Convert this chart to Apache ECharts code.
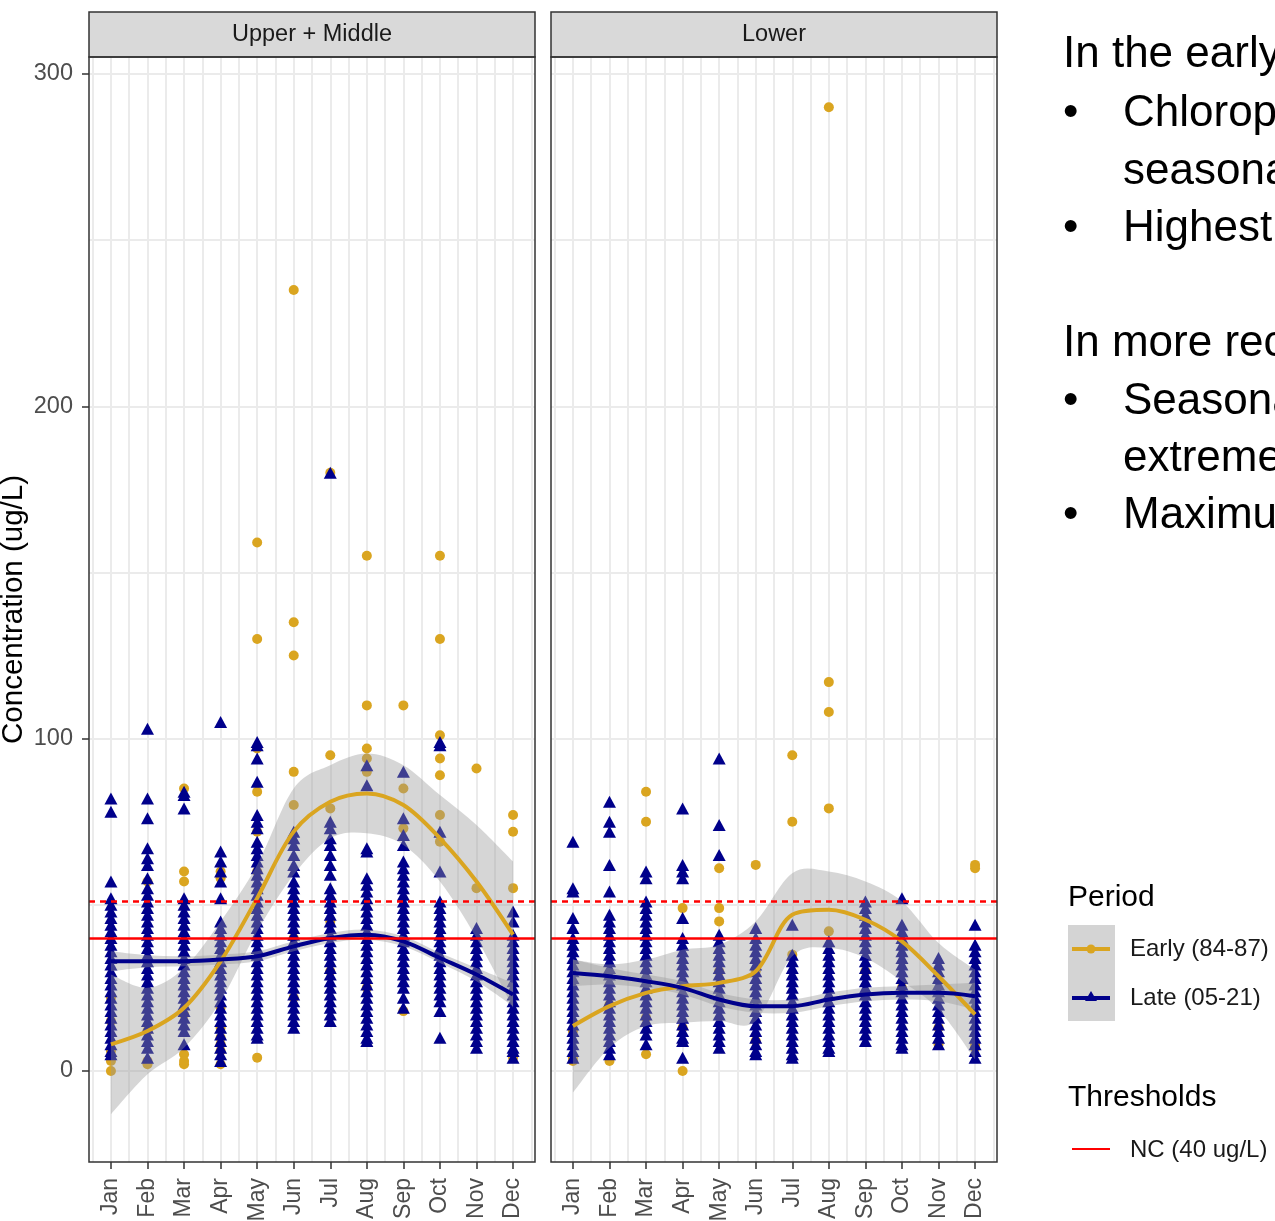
<!DOCTYPE html>
<html>
<head>
<meta charset="utf-8">
<script src="https://cdn.jsdelivr.net/npm/echarts@6/dist/echarts.min.js"></script>
<style>
  html, body {margin: 0; padding: 0; background: #fff;}
  #chart {width: 1275px; height: 1221px;}
</style>
</head>
<body>
<div id="chart"></div>
<script>
const months = ['Jan', 'Feb', 'Mar', 'Apr', 'May', 'Jun', 'Jul', 'Aug', 'Sep', 'Oct', 'Nov', 'Dec']
const panels = ['Upper + Middle', 'Lower']
const thresholds = [40, 51]
const yTicks = [0, 100, 200, 300]
const yMinorTicks = [50, 150, 250]
const xTicks = [1, 2, 3, 4, 5, 6, 7, 8, 9, 10, 11, 12]
const xMinorTicks = [0.5, 1.5, 2.5, 3.5, 4.5, 5.5, 6.5, 7.5, 8.5, 9.5, 10.5, 11.5, 12.5]

// Upper + Middle, observations per month
const umEarly = [
  [0, 3, 6, 15, 22],
  [57, 12, 3, 2],
  [85, 60, 57, 17, 5, 3, 2],
  [60, 58, 19, 13, 10, 8, 6, 2],
  [159, 130, 97, 84, 72, 60, 4],
  [235, 135, 125, 90, 80, 40, 22],
  [180, 95, 79, 45, 30],
  [155, 110, 97, 94, 90, 25],
  [110, 85, 73, 18],
  [155, 130, 101, 94, 89, 77, 69],
  [91, 55],
  [77, 72, 55, 4],
]
const umLate = [
  [82, 78, 57, 52, 50, 48, 46, 44, 42, 40, 38, 36, 34, 32, 30, 28, 26, 24, 22, 20, 18, 16, 14, 12, 10, 8, 6, 5],
  [103, 82, 76, 67, 64, 62, 58, 55, 53, 51, 49, 47, 45, 43, 41, 39, 37, 35, 33, 31, 29, 27, 25, 23, 21, 19, 17, 15, 13, 11, 9, 7, 4],
  [84, 83, 79, 52, 50, 48, 46, 44, 42, 40, 38, 36, 34, 32, 30, 28, 26, 24, 22, 20, 18, 16, 14, 12, 8],
  [105, 66, 63, 60, 57, 52, 45, 43, 41, 39, 37, 35, 33, 31, 29, 27, 25, 23, 21, 19, 17, 15, 13, 11, 9, 7, 5, 3],
  [99, 98, 94, 87, 77, 75, 73, 69, 67, 65, 63, 61, 59, 57, 55, 53, 51, 49, 47, 45, 43, 41, 39, 37, 35, 33, 31, 29, 27, 25, 23, 21, 19, 17, 15, 13, 11, 10],
  [72, 70, 68, 65, 62, 60, 57, 55, 53, 51, 49, 47, 45, 43, 41, 39, 37, 35, 33, 31, 29, 27, 25, 23, 21, 19, 17, 15, 13],
  [180, 75, 73, 70, 68, 65, 62, 59, 55, 53, 51, 49, 47, 45, 43, 41, 39, 37, 35, 33, 31, 29, 27, 25, 23, 21, 19, 17, 15],
  [92, 86, 67, 66, 58, 56, 54, 52, 50, 48, 46, 44, 42, 40, 38, 36, 34, 32, 30, 28, 26, 24, 22, 20, 18, 16, 14, 12, 10, 9],
  [90, 76, 71, 68, 63, 61, 59, 57, 55, 53, 51, 49, 47, 45, 43, 41, 39, 37, 35, 33, 31, 29, 27, 25, 22, 19],
  [99, 98, 72, 60, 51, 49, 47, 45, 43, 41, 39, 37, 35, 33, 31, 29, 27, 25, 23, 21, 18, 10],
  [43, 41, 39, 37, 35, 33, 31, 29, 27, 25, 23, 21, 19, 17, 15, 13, 11, 9, 7],
  [48, 45, 41, 39, 37, 35, 33, 31, 29, 27, 25, 23, 21, 19, 17, 15, 13, 11, 9, 7, 6, 4],
]

// Lower, observations per month
const lwEarly = [
  [4, 3, 12],
  [3, 20],
  [84, 75, 16, 5],
  [49, 13, 0],
  [61, 49, 45, 30],
  [62, 9, 30],
  [95, 75, 35],
  [290, 117, 108, 79, 42],
  [30],
  [25],
  [13, 8],
  [62, 61, 8, 7],
]
const lwLate = [
  [69, 55, 54, 46, 43, 40, 38, 36, 34, 32, 30, 28, 26, 24, 22, 20, 18, 16, 14, 12, 10, 8, 6, 4],
  [81, 75, 72, 62, 54, 47, 45, 43, 41, 39, 37, 35, 33, 31, 29, 27, 25, 23, 21, 19, 17, 15, 13, 11, 9, 7, 5],
  [60, 58, 51, 49, 47, 45, 43, 41, 39, 37, 35, 33, 31, 29, 27, 25, 23, 21, 19, 17, 15, 13, 11, 8],
  [79, 62, 60, 58, 46, 40, 38, 36, 34, 32, 30, 28, 26, 24, 22, 20, 18, 16, 14, 12, 10, 9, 4],
  [94, 74, 65, 41, 39, 37, 35, 33, 31, 29, 27, 25, 23, 21, 19, 17, 15, 13, 11, 9, 7],
  [43, 40, 38, 36, 34, 32, 30, 28, 26, 24, 22, 20, 18, 16, 14, 12, 10, 8, 6, 5],
  [44, 35, 33, 31, 29, 27, 25, 23, 21, 19, 17, 15, 13, 11, 9, 7, 5, 4],
  [39, 37, 35, 33, 31, 29, 27, 25, 23, 21, 19, 17, 15, 13, 11, 9, 7, 6],
  [51, 49, 47, 45, 43, 41, 39, 37, 35, 33, 31, 29, 27, 25, 23, 21, 19, 17, 15, 13, 11, 9],
  [52, 44, 42, 40, 38, 36, 34, 32, 30, 28, 26, 24, 22, 20, 18, 16, 14, 12, 10, 8, 7],
  [34, 32, 30, 28, 26, 24, 22, 20, 18, 16, 14, 12, 10, 8],
  [44, 38, 36, 34, 32, 30, 28, 26, 24, 22, 20, 18, 16, 14, 12, 10, 8, 6, 4],
]

// smoothed fits (value at each month) and their confidence bands
const umEarlyFit = [8, 12, 19, 33, 52, 72, 81, 83.5, 80, 70, 57, 41]
const umEarlyLo = [-13, -1, 7, 21, 42, 59, 70, 71.5, 68, 57, 40, 19]
const umEarlyHi = [29, 25, 31, 45, 62, 85, 92, 95.5, 92, 83, 74, 63]
const umLateFit = [33, 33, 33, 33.5, 34.5, 37.5, 40, 41, 39, 34, 29, 23]
const umLateLo = [30, 31.2, 31.5, 32, 33, 36, 38.5, 39.5, 37.5, 32.5, 27, 19.5]
const umLateHi = [36, 34.8, 34.5, 35, 36, 39, 41.5, 42.5, 40.5, 35.5, 31, 26.5]

const lwEarlyFit = [13.5, 19.5, 23.5, 25.5, 26.5, 30, 47, 48.5, 45.5, 39, 28.5, 17]
const lwEarlyLo = [-6.5, 7, 13.5, 14.5, 15, 15, 34.5, 37, 34, 27, 18.5, 3.5]
const lwEarlyHi = [33.5, 32, 33.5, 36.5, 38, 45, 59.5, 60, 57, 51, 38.5, 30.5]
const lwLateFit = [29.5, 28.5, 27, 25, 21.5, 19.5, 19.5, 21.5, 23, 23.5, 23.5, 22.5]
const lwLateLo = [25.5, 26, 25, 23, 19.5, 17.5, 17.5, 19.5, 21, 21.5, 21, 18.5]
const lwLateHi = [33.5, 31, 29, 27, 23.5, 21.5, 21.5, 23.5, 25, 25.5, 26, 26.5]

const notes = [
  {text: 'In the early 1980s:', bullet: false, y: 55},
  {text: 'Chlorophyll-a showed a strong', bullet: true, y: 114},
  {text: 'seasonal pattern', bullet: false, indent: true, y: 172},
  {text: 'Highest values in summer', bullet: true, y: 229},
  {text: 'In more recent years:', bullet: false, y: 344},
  {text: 'Seasonal pattern is less', bullet: true, y: 402},
  {text: 'extreme', bullet: false, indent: true, y: 459},
  {text: 'Maximum values are lower', bullet: true, y: 516},
]

const EARLY = '#DAA520'
const LATE = '#00008B'
const FONT = '"Liberation Sans", Arial, sans-serif'

const toPoints = (cols) => cols.flatMap((vals, i) => vals.map((v) => [xTicks[i], v]))
const toLine = (vals) => vals.map((v, i) => [xTicks[i], v])

const gridBoxes = [
  {left: 89, top: 57, width: 446, height: 1105},
  {left: 551, top: 57, width: 446, height: 1105},
]

// catmull-rom through pixel points, as svg path commands
const splineCmds = (pts) => {
  let d = ''
  for (let i = 0; i < pts.length - 1; i++) {
    const p0 = pts[i - 1] || pts[i]
    const p1 = pts[i]
    const p2 = pts[i + 1]
    const p3 = pts[i + 2] || p2
    const c1 = [p1[0] + (p2[0] - p0[0]) / 6, p1[1] + (p2[1] - p0[1]) / 6]
    const c2 = [p2[0] - (p3[0] - p1[0]) / 6, p2[1] - (p3[1] - p1[1]) / 6]
    d += ` C${c1[0]} ${c1[1]} ${c2[0]} ${c2[1]} ${p2[0]} ${p2[1]}`
  }
  return d
}

const bandSeries = (idx, lo, hi) => ({
  type: 'custom', xAxisIndex: idx, yAxisIndex: idx, z: 3, silent: true,
  data: [[xTicks[0], lo[0]]],
  renderItem: (params, api) => {
    const up = hi.map((v, i) => api.coord([xTicks[i], v]))
    const dn = lo.map((v, i) => api.coord([xTicks[i], v])).reverse()
    const d = `M${up[0][0]} ${up[0][1]}` + splineCmds(up) +
      ` L${dn[0][0]} ${dn[0][1]}` + splineCmds(dn) + ' Z'
    return {type: 'path', shape: {pathData: d}, style: {fill: '#999999', opacity: 0.4}}
  },
})

const makePanelSeries = (idx, early, late, fits) => {
  const axes = {xAxisIndex: idx, yAxisIndex: idx}
  return [
    {
      ...axes, type: 'line', data: [], silent: true,
      markLine: {
        silent: true, symbol: ['none', 'none'], label: {show: false}, z: 0, animation: false,
        lineStyle: {color: '#ebebeb', width: 2, type: 'solid'},
        data: [
          ...xMinorTicks.map((v) => ({xAxis: v})),
          ...xTicks.map((v) => ({xAxis: v})),
          ...yMinorTicks.map((v) => ({yAxis: v})),
          ...yTicks.map((v) => ({yAxis: v})),
        ],
      },
    },
    {
      ...axes, type: 'scatter', name: 'Early (84-87)', data: toPoints(early),
      symbol: 'circle', symbolSize: 10, itemStyle: {color: EARLY, opacity: 1}, z: 2,
    },
    {
      ...axes, type: 'scatter', name: 'Late (05-21)', data: toPoints(late),
      symbol: 'triangle', symbolSize: [13, 12], itemStyle: {color: LATE, opacity: 1}, z: 2,
    },
    bandSeries(idx, fits.eLo, fits.eHi),
    bandSeries(idx, fits.lLo, fits.lHi),
    {
      ...axes, type: 'line', data: toLine(fits.eFit), smooth: 0.33, symbol: 'none', z: 4,
      lineStyle: {color: EARLY, width: 4},
    },
    {
      ...axes, type: 'line', data: toLine(fits.lFit), smooth: 0.33, symbol: 'none', z: 4,
      lineStyle: {color: LATE, width: 4},
    },
    {
      ...axes, type: 'line', data: [], silent: true,
      markLine: {
        silent: true, symbol: ['none', 'none'], label: {show: false}, z: 6, animation: false,
        data: [
          {yAxis: thresholds[0], lineStyle: {color: '#ff0000', width: 2.5, type: 'solid'}},
          {yAxis: thresholds[1], lineStyle: {color: '#ff0000', width: 2.5, type: [6, 5]}},
        ],
      },
    },
  ]
}

const chart = echarts.init(document.getElementById('chart'), null, {renderer: 'canvas'})

const xAxisFor = (idx) => ({
  gridIndex: idx, type: 'value', min: 0.4, max: 12.6,
  axisLine: {show: false, onZero: false}, splitLine: {show: false},
  axisTick: {show: true, length: 7, lineStyle: {color: '#333', width: 1.5}, customValues: xTicks},
  axisLabel: {
    show: true, rotate: 90, margin: 16, fontSize: 23, color: '#4d4d4d', fontFamily: FONT,
    customValues: xTicks, formatter: (v) => months[Math.round(v) - 1],
  },
})

const yAxisFor = (idx) => ({
  gridIndex: idx, type: 'value', min: -27.4, max: 305.1,
  axisLine: {show: false, onZero: false}, splitLine: {show: false},
  axisTick: {show: idx === 0, length: 7, lineStyle: {color: '#333', width: 1.5}, customValues: yTicks},
  axisLabel: {show: idx === 0, margin: 16, fontSize: 23.5, color: '#4d4d4d', fontFamily: FONT, customValues: yTicks},
  name: idx === 0 ? 'Concentration (ug/L)' : '',
  nameLocation: 'middle', nameRotate: 90, nameGap: 60,
  nameTextStyle: {fontSize: 29.5, color: '#000', fontFamily: FONT},
})

const graphics = []
gridBoxes.forEach((g, i) => {
  graphics.push({
    type: 'rect', z: 50, silent: true,
    shape: {x: g.left, y: 12, width: g.width, height: 45},
    style: {fill: '#d9d9d9', stroke: '#333', lineWidth: 1.5},
  })
  graphics.push({
    type: 'text', z: 51, silent: true, x: g.left + g.width / 2, y: 35,
    style: {text: panels[i], fontSize: 23.5, fontFamily: FONT, fill: '#1a1a1a', align: 'center', verticalAlign: 'middle'},
  })
  graphics.push({
    type: 'rect', z: 50, silent: true,
    shape: {x: g.left, y: g.top, width: g.width, height: g.height},
    style: {fill: 'none', stroke: '#333', lineWidth: 1.5},
  })
})

// right-hand notes
notes.forEach((n) => {
  if (n.bullet) {
    graphics.push({
      type: 'text', silent: true, x: 1063, y: n.y,
      style: {text: '\u2022', fontSize: 44, fontFamily: FONT, fill: '#000', verticalAlign: 'middle'},
    })
  }
  graphics.push({
    type: 'text', silent: true, x: n.bullet || n.indent ? 1123 : 1063, y: n.y,
    style: {text: n.text, fontSize: 44, fontFamily: FONT, fill: '#000', verticalAlign: 'middle'},
  })
})

// legend
const legendText = (text, x, y, size, color) => ({
  type: 'text', silent: true, x, y,
  style: {text, fontSize: size, fontFamily: FONT, fill: color, verticalAlign: 'middle'},
})
graphics.push(legendText('Period', 1068, 898, 30, '#000'))
graphics.push({type: 'rect', silent: true, shape: {x: 1068, y: 925, width: 47, height: 96}, style: {fill: '#d4d4d4'}})
graphics.push({type: 'line', silent: true, shape: {x1: 1072, y1: 949, x2: 1110, y2: 949}, style: {stroke: EARLY, lineWidth: 4}})
graphics.push({type: 'circle', silent: true, shape: {cx: 1091, cy: 949, r: 4.5}, style: {fill: EARLY}})
graphics.push({type: 'line', silent: true, shape: {x1: 1072, y1: 998, x2: 1110, y2: 998}, style: {stroke: LATE, lineWidth: 4}})
graphics.push({type: 'polygon', silent: true, shape: {points: [[1091, 991], [1097, 1001], [1085, 1001]]}, style: {fill: LATE}})
graphics.push(legendText('Early (84-87)', 1130, 949, 24, '#1a1a1a'))
graphics.push(legendText('Late (05-21)', 1130, 998, 24, '#1a1a1a'))
graphics.push(legendText('Thresholds', 1068, 1098, 30, '#000'))
graphics.push({type: 'line', silent: true, shape: {x1: 1072, y1: 1149, x2: 1110, y2: 1149}, style: {stroke: '#ff0000', lineWidth: 2}})
graphics.push(legendText('NC (40 ug/L)', 1130, 1150, 24, '#1a1a1a'))

const option = {
  animation: false,
  backgroundColor: '#fff',
  grid: gridBoxes.map((g) => ({...g, show: false, containLabel: false, outerBoundsMode: 'none'})),
  xAxis: [xAxisFor(0), xAxisFor(1)],
  yAxis: [yAxisFor(0), yAxisFor(1)],
  series: [
    ...makePanelSeries(0, umEarly, umLate, {
      eFit: umEarlyFit, eLo: umEarlyLo, eHi: umEarlyHi,
      lFit: umLateFit, lLo: umLateLo, lHi: umLateHi,
    }),
    ...makePanelSeries(1, lwEarly, lwLate, {
      eFit: lwEarlyFit, eLo: lwEarlyLo, eHi: lwEarlyHi,
      lFit: lwLateFit, lLo: lwLateLo, lHi: lwLateHi,
    }),
  ],
  graphic: graphics,
}
chart.setOption(option)
</script>
</body>
</html>
